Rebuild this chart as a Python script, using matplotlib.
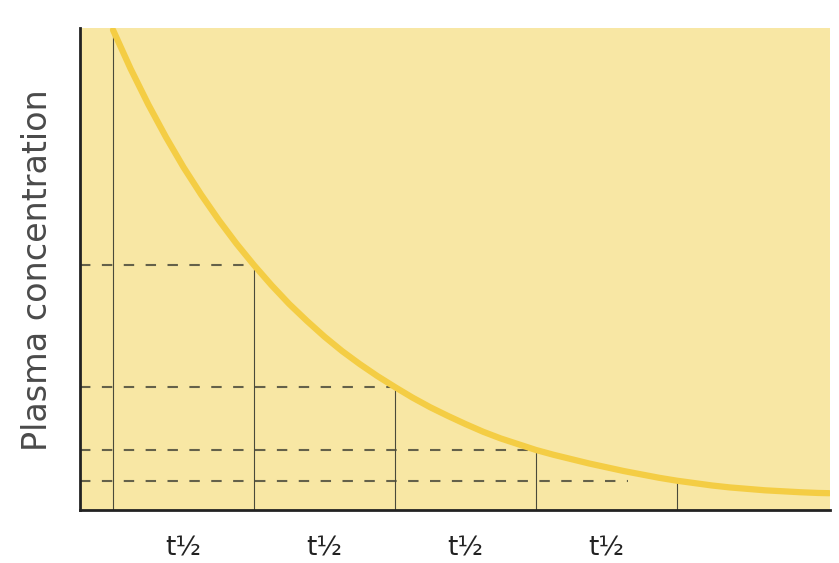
import matplotlib
matplotlib.use("Agg")
import matplotlib.pyplot as plt

# Data (concentration as % of initial)
half_life_idx = [0, 1, 2, 3, 4]
levels = [100, 51, 25.6, 12.5, 6.1]
curve_t = [0, 0.125, 0.25, 0.375, 0.5, 0.625, 0.75, 0.875,
           1, 1.125, 1.25, 1.375, 1.5, 1.625, 1.75, 1.875,
           2, 2.125, 2.25, 2.375, 2.5, 2.625, 2.75, 2.875,
           3, 3.125, 3.25, 3.375, 3.5, 3.625, 3.75, 3.875,
           4, 4.125, 4.25, 4.375, 4.5, 4.625, 4.75, 4.875, 5, 5.08]
curve_c = [100, 91.9, 84.5, 77.7, 71.4, 65.7, 60.4, 55.5,
           51.0, 46.8, 42.9, 39.4, 36.1, 33.1, 30.4, 27.9,
           25.6, 23.4, 21.4, 19.6, 17.9, 16.3, 14.9, 13.7,
           12.5, 11.5, 10.6, 9.7, 8.9, 8.1, 7.4, 6.7,
           6.1, 5.6, 5.1, 4.7, 4.4, 4.1, 3.9, 3.7, 3.55, 3.5]
dash_end = [1, 2, 3, 3.65]
tick_labels = ["t½", "t½", "t½", "t½"]
ylabel = "Plasma concentration"

bg = "#F8E7A4"
curve_col = "#F4CD44"
line_col = "#4a4a3a"

fig = plt.figure(figsize=(8.39, 5.63), dpi=100)
ax = fig.add_axes([80/839, 53/563, 750/839, 482/563])
ax.set_facecolor(bg)
ax.set_xlim(-0.234, 5.085)
ax.set_ylim(0, 100.4)

# vertical lines from baseline to curve
for i, (t, v) in enumerate(zip(half_life_idx, levels)):
    top = 100.4 if i == 0 else v
    ax.plot([t, t], [0, top], color=line_col, lw=0.8, zorder=2)

# horizontal dashed lines
for v, xe in zip(levels[1:], dash_end):
    ax.plot([-0.234, xe], [v, v], color=line_col, lw=1.5, alpha=0.85,
            dashes=(5, 5.5), zorder=2)

ax.plot(curve_t, curve_c, color=curve_col, lw=4.5, solid_capstyle='round',
        solid_joinstyle='round', zorder=3)

for s in ["top", "right"]:
    ax.spines[s].set_visible(False)
for s in ["left", "bottom"]:
    ax.spines[s].set_linewidth(2.0)
    ax.spines[s].set_color("#222222")
ax.set_xticks([])
ax.set_yticks([])

for i, lab in enumerate(tick_labels):
    ax.text(half_life_idx[i] + 0.5, -8.0, lab, ha="center", va="center",
            fontsize=19, color="#222222", family=["Liberation Sans Narrow", "DejaVu Sans"])

fig.text(38/839, 1 - 270/563, ylabel, rotation=90, ha="center", va="center",
         fontsize=24, color="#4a4a4a", family=["DejaVu Sans"])

fig.savefig("out.png", dpi=100)
